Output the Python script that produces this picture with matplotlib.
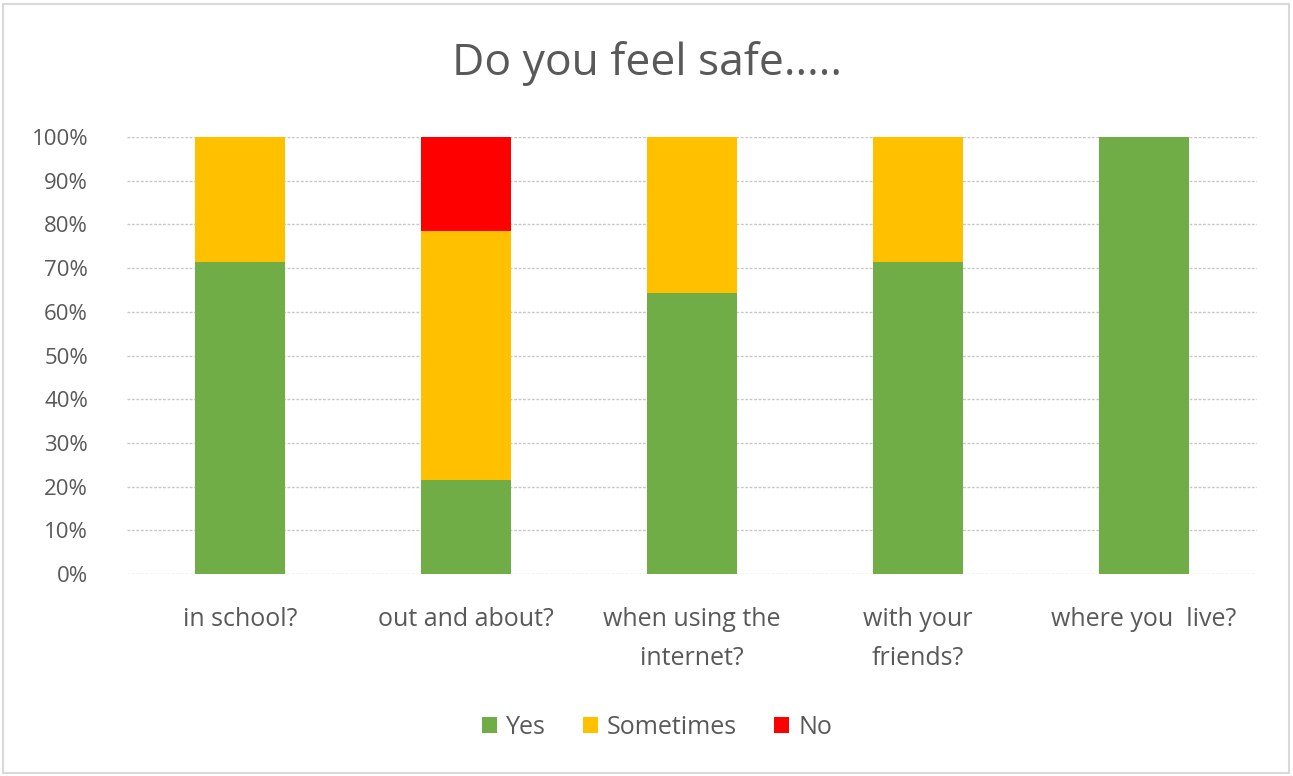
import matplotlib
matplotlib.use("Agg")
import matplotlib.pyplot as plt
from matplotlib.patches import Rectangle
from matplotlib.ticker import FuncFormatter

categories = ["in school?", "out and about?", "when using the\ninternet?", "with your\nfriends?", "where you  live?"]
yes = [71.4, 21.4, 64.3, 71.4, 100.0]
sometimes = [28.6, 57.2, 35.7, 28.6, 0.0]
no = [0.0, 21.4, 0.0, 0.0, 0.0]
yticks = [0, 10, 20, 30, 40, 50, 60, 70, 80, 90, 100]

plt.rcParams['font.family'] = ['Open Sans', 'DejaVu Sans']
txt = '#595959'

fig = plt.figure(figsize=(12.93, 7.76), dpi=100)
fig.patches.append(Rectangle((3/1293, 3/776), 1286/1293, 769/776, transform=fig.transFigure,
                             fill=False, edgecolor='#d9d9d9', linewidth=1.5))
ax = fig.add_axes([127/1293, 1-574/776, 1130/1293, 437/776])

x = list(range(len(categories)))
w = 0.395
ax.bar(x, yes, width=w, color='#70AD47', label='Yes', zorder=3)
bottom2 = yes
ax.bar(x, sometimes, width=w, bottom=bottom2, color='#FFC000', label='Sometimes', zorder=3)
bottom3 = [a + b for a, b in zip(yes, sometimes)]
ax.bar(x, no, width=w, bottom=bottom3, color='#FF0000', label='No', zorder=3)

ax.set_xlim(-0.5, len(categories) - 0.5)
ax.set_ylim(0, 100)
ax.set_yticks(yticks)
ax.yaxis.set_major_formatter(FuncFormatter(lambda v, p: f"{int(v)}%"))
ax.grid(axis='y', color='#c8c8c8', linestyle=(0, (2, 1.2)), linewidth=1, zorder=0)
ax.set_axisbelow(True)
for s in ax.spines.values():
    s.set_visible(False)
ax.tick_params(axis='y', length=0, labelsize=16, colors=txt, pad=28)
ax.tick_params(axis='x', length=0, labelsize=18, colors=txt, pad=24)
ax.set_xticks(x)
ax.set_xticklabels(categories, linespacing=1.72)

fig.text(0.5, 1-64/776, "Do you feel safe.....", ha='center', va='center', fontsize=32, color=txt)

leg = fig.legend(loc='center', bbox_to_anchor=(657/1293, 1-727/776), ncol=3, frameon=False,
                 fontsize=18, handlelength=0.6, handleheight=0.6, handletextpad=0.35,
                 columnspacing=1.5, labelcolor=txt)

fig.savefig("out.png", dpi=100)
